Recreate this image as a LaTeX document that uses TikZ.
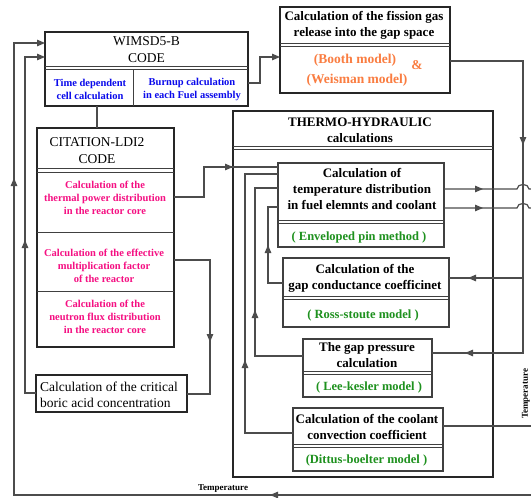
\documentclass[tikz,border=0pt]{standalone}
\usepackage{fontspec}
\setmainfont{Liberation Serif}
\usetikzlibrary{arrows.meta,decorations.markings}
\definecolor{wimsblue}{RGB}{10,10,235}
\definecolor{citpink}{RGB}{245,15,130}
\definecolor{gasorange}{RGB}{250,125,65}
\definecolor{modgreen}{RGB}{30,145,30}

\begin{document}
\begin{tikzpicture}[x=1pt,y=-1pt,>={Triangle[length=8pt,width=6.5pt]}, %% coupled codes
  box/.style={draw=black!85,line width=1.6pt,inner sep=0pt,outer sep=0pt},
  subbox/.style={draw=black!75,line width=1.3pt,inner sep=0pt,outer sep=0pt},
  sep/.style={draw=black!75,line width=1pt},
  conn/.style={draw=black!70,line width=1.2pt},
  tipat/.style={postaction={decorate,decoration={markings,mark=at position #1 with {\arrow{>}}}}},
  ttl/.style={inner sep=0pt,align=center,font=\fontsize{13.5}{17}\selectfont},
  blk/.style={inner sep=0pt,align=center,font=\bfseries\fontsize{13}{16}\selectfont},
  blu/.style={inner sep=0pt,align=center,text=wimsblue,font=\bfseries\fontsize{10.5}{13}\selectfont},
  pnk/.style={inner sep=0pt,align=center,text=citpink,font=\bfseries\fontsize{10.5}{12.7}\selectfont},
  org/.style={inner sep=0pt,text=gasorange,font=\bfseries\fontsize{13.5}{16}\selectfont},
  grn/.style={inner sep=0pt,text=modgreen,font=\bfseries\fontsize{12.5}{15}\selectfont},
  bor/.style={inner sep=0pt,align=left,font=\fontsize{13.5}{16}\selectfont},
  tlab/.style={inner sep=0pt,font=\bfseries\fontsize{9}{10}\selectfont}]
\useasboundingbox[fill=white] (0,0) rectangle (531,498);
\coordinate (botR) at (531,495);

% WIMSD5-B
\node[box,minimum width=203pt,minimum height=74pt] (wimsd) at (146.5,69) {};
\draw[sep] (wimsd.west |- 0,66) -- (wimsd.east |- 0,66) (wimsd.west |- 0,69) -- (wimsd.east |- 0,69);
\draw[sep] (133,69) -- (wimsd.south -| 133,0);
\node[ttl] (wimsdT) at (146.5,50) {WIMSD5-B\\CODE};
\node[blu] (wimsdL) at (90,89) {Time dependent\\cell calculation};
\node[blu] (wimsdR) at (192,89) {Burnup calculation\\in each Fuel assembly};

% fission gas
\node[box,minimum width=170pt,minimum height=86pt] (fission) at (365,50) {};
\draw[sep] (fission.west |- 0,43.5) -- (fission.east |- 0,43.5) (fission.west |- 0,46.5) -- (fission.east |- 0,46.5);
\node[blk] (fissionT) at (364,25) {Calculation of the fission gas\\release into the gap space};
\node[org] (booth) at (355,60) {(Booth model)};
\node[org] (weisman) at (357,80) {(Weisman model)};
\node[org] (amp) at (417,65) {\&};

% CITATION
\node[box,minimum width=137pt,minimum height=219pt] (citation) at (105.5,237.5) {};
\draw[sep] (citation.west |- 0,168) -- (citation.east |- 0,168) (citation.west |- 0,172) -- (citation.east |- 0,172);
\draw[sep] (citation.west |- 0,232) -- (citation.east |- 0,232) (citation.west |- 0,291) -- (citation.east |- 0,291);
\node[ttl] (citT) at (97,151) {CITATION-LDI2\\CODE};
\node[pnk] (citA) at (105,198) {Calculation of the\\thermal power distribution\\in the reactor core};
\node[pnk] (citB) at (104,266) {Calculation of the effective\\multiplication factor\\of the reactor};
\node[pnk] (citC) at (105,317) {Calculation of the\\neutron flux distribution\\in the reactor core};

% boric acid
\node[box,minimum width=151pt,minimum height=37pt] (boric) at (111.5,393.5) {};
\node[bor,anchor=west] (boricT) at (40,395) {Calculation of the critical\\boric acid concentration};

% thermo-hydraulic
\node[box,line width=2pt,minimum width=260pt,minimum height=366pt] (thermo) at (363,294) {};
\draw[sep] (thermo.west |- 0,146.5) -- (thermo.east |- 0,146.5) (thermo.west |- 0,149.5) -- (thermo.east |- 0,149.5);
\node[blk] (thermoT) at (360,130) {THERMO-HYDRAULIC\\calculations};

\node[subbox,minimum width=166pt,minimum height=84pt] (temp) at (361,205) {};
\draw[sep] (temp.west |- 0,220.5) -- (temp.east |- 0,220.5) (temp.west |- 0,223.5) -- (temp.east |- 0,223.5);
\node[blk] (tempT) at (362,189) {Calculation of\\temperature distribution\\in fuel elemnts and coolant};
\node[grn] (tempM) at (359,237) {( Enveloped pin method )};

\node[subbox,minimum width=166pt,minimum height=69pt] (gapc) at (366,292.5) {};
\draw[sep] (gapc.west |- 0,296.5) -- (gapc.east |- 0,296.5) (gapc.west |- 0,299.5) -- (gapc.east |- 0,299.5);
\node[blk] (gapcT) at (365,278) {Calculation of the\\gap conductance coefficinet};
\node[grn] (gapcM) at (363,315) {( Ross-stoute model )};

\node[subbox,minimum width=129pt,minimum height=58pt] (gapp) at (367.5,368) {};
\draw[sep] (gapp.west |- 0,371.5) -- (gapp.east |- 0,371.5) (gapp.west |- 0,374.5) -- (gapp.east |- 0,374.5);
\node[blk] (gappT) at (367,355.5) {The gap pressure\\calculation};
\node[grn] (gappM) at (369,387) {( Lee-kesler model )};

\node[subbox,minimum width=150pt,minimum height=63pt] (cool) at (368,439.5) {};
\draw[sep] (cool.west |- 0,444) -- (cool.east |- 0,444) (cool.west |- 0,447) -- (cool.east |- 0,447);
\node[blk] (coolT) at (367,426.5) {Calculation of the coolant\\convection coefficient};
\node[grn] (coolM) at (366.5,460) {(Dittus-boelter model )};

\node[tlab] (tempB) at (223,489) {Temperature};
\node[tlab,rotate=90] (tempR) at (526,394) {Temperature};

% connectors
\draw[conn,->] (wimsd.east |- 0,83) -| (260,57) -- (fission.west |- 0,57);
\draw[conn] (wimsd.south -| citT) -- (citation.north -| citT);
\draw[conn,tipat=89pt] (citation.east |- 0,197) -| (204,167) -- (temp.west |- 0,167);
\draw[conn,tipat=118pt] (citation.east |- 0,260) -| (210,394) -- (boric.east |- 0,394);
\draw[conn,->,tipat=164pt] (boric.west |- 0,393) -- (25,393) |- (wimsd.west |- 0,57);
\draw[conn,->,tipat=261pt,tipat=834pt] (botR) -| (14,43) -- (wimsd.west |- 0,43);
\draw[conn,tipat=157pt,tipat=423pt] (fission.east |- 0,61) -| (523,353) -- (gapp.east |- 0,353);
\draw[conn,tipat=55pt] (523,278) -- (gapc.east |- 0,278);
\draw[conn,tipat=39pt] (temp.east |- 0,189) -- (517,189) .. controls (517,183) and (529,183) .. (529,189) -- (531,189);
\draw[conn,tipat=39pt] (temp.east |- 0,208) -- (517,208) .. controls (517,202) and (529,202) .. (529,208) -- (531,208);
\draw[conn] (cool.east |- 0,426) -- (531,426);
\draw[conn,tipat=53pt] (gapc.west |- 0,283) -| (268,207) -- (temp.west |- 0,207);
\draw[conn,tipat=94pt] (gapp.west |- 0,356) -| (255,188) -- (temp.west |- 0,188);
\draw[conn,tipat=121pt] (cool.west |- 0,433) -| (245,174) -- (temp.west |- 0,174);
\end{tikzpicture}
\end{document}
